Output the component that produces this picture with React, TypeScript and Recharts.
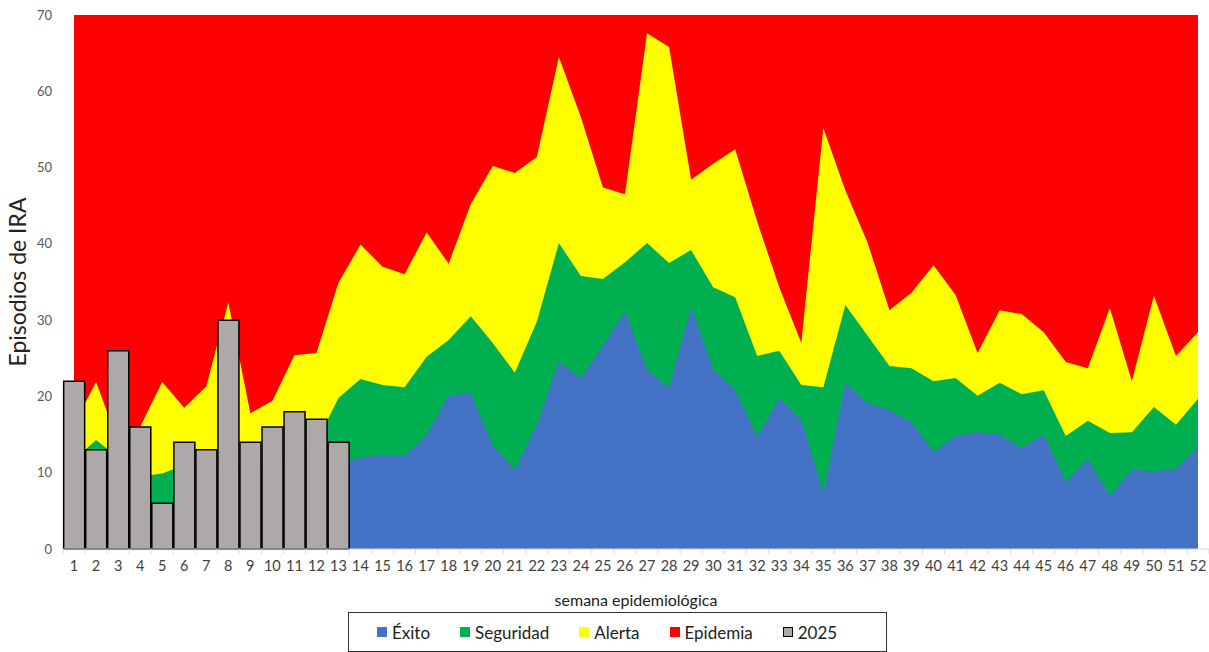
import React from "react";
import {
  ComposedChart,
  Area,
  Bar,
  XAxis,
  YAxis,
  Label,
} from "recharts";

// semanas epidemiológicas 1..52
const semanas = [
  1, 2, 3, 4, 5, 6, 7, 8, 9, 10, 11, 12, 13, 14, 15, 16, 17, 18, 19, 20, 21,
  22, 23, 24, 25, 26, 27, 28, 29, 30, 31, 32, 33, 34, 35, 36, 37, 38, 39, 40,
  41, 42, 43, 44, 45, 46, 47, 48, 49, 50, 51, 52,
];

// límite superior de cada zona del canal endémico
const exito = [
  8.5, 7.5, 7.0, 4.5, 5.5, 6.0, 5.5, 3.5, 5.0, 5.0, 8.0, 9.0, 11.0, 12.0, 12.3,
  12.2, 15.0, 20.2, 20.4, 13.6, 10.4, 16.3, 24.5, 22.4, 26.7, 31.1, 23.5, 21.1,
  31.7, 23.5, 20.8, 14.7, 19.8, 16.9, 7.3, 21.8, 19.1, 18.2, 16.6, 12.7, 14.8,
  15.3, 15.0, 13.2, 15.0, 8.8, 11.8, 6.9, 10.4, 10.2, 10.5, 13.4,
];

const seguridad = [
  11.7, 14.3, 12.0, 9.5, 9.9, 11.0, 11.0, 11.0, 10.5, 10.5, 12.5, 14.0, 19.8,
  22.3, 21.5, 21.2, 25.2, 27.4, 30.5, 27.0, 23.1, 29.8, 40.1, 35.8, 35.4, 37.6,
  40.1, 37.5, 39.2, 34.3, 33.0, 25.3, 26.0, 21.5, 21.2, 32.0, 28.0, 24.0, 23.7,
  22.0, 22.4, 20.1, 21.8, 20.3, 20.8, 14.8, 16.8, 15.2, 15.3, 18.6, 16.3, 19.7,
];

const alerta = [
  16.3, 21.9, 14.1, 16.0, 21.9, 18.5, 21.3, 32.3, 17.8, 19.4, 25.4, 25.7, 34.9,
  39.9, 37.0, 36.0, 41.5, 37.4, 45.2, 50.2, 49.3, 51.4, 64.5, 56.6, 47.4, 46.5,
  67.6, 65.8, 48.4, 50.5, 52.4, 42.9, 34.3, 27.0, 55.2, 47.0, 40.2, 31.3, 33.6,
  37.2, 33.3, 25.7, 31.3, 30.8, 28.4, 24.5, 23.7, 31.6, 22.0, 33.2, 25.3, 28.4,
];

// la zona de epidemia llega hasta el techo del eje
const techo = 70;

const casos2025 = [22, 13, 26, 16, 6, 14, 13, 30, 14, 16, 18, 17, 14];

const yTicks = [0, 10, 20, 30, 40, 50, 60, 70];

const COLORS = {
  exito: "#4472C4",
  seguridad: "#00B050",
  alerta: "#FFFF00",
  epidemia: "#FF0000",
  barra: "#ADA9A8",
};

const FONT = "Lato, 'Open Sans', sans-serif";

const data = semanas.map((s, i) => ({
  semana: s,
  exito: exito[i],
  seguridad: seguridad[i],
  alerta: alerta[i],
  epidemia: techo,
  casos: i < casos2025.length ? casos2025[i] : null,
}));

const XTick = (props: any) => {
  const { x, y, payload, index } = props;
  const half = payload && payload.offset ? payload.offset : 11;
  return (
    <g>
      <line x1={x - half} y1={y - 8} x2={x - half} y2={y - 3} stroke="#D9D9D9" />
      {index === semanas.length - 1 && (
        <line x1={x + half} y1={y - 8} x2={x + half} y2={y - 3} stroke="#D9D9D9" />
      )}
      <text
        x={x}
        y={y + 14}
        textAnchor="middle"
        fill="#404040"
        fontSize={14.5}
        fontFamily={FONT}
      >
        {payload.value}
      </text>
    </g>
  );
};

const legendItems = [
  { name: "Éxito", color: COLORS.exito },
  { name: "Seguridad", color: COLORS.seguridad },
  { name: "Alerta", color: COLORS.alerta },
  { name: "Epidemia", color: COLORS.epidemia },
  { name: "2025", color: COLORS.barra, border: true },
];

export default function App() {
  return (
    <div
      style={{
        position: "absolute",
        left: 0,
        top: 0,
        width: 1209,
        height: 652,
        background: "#fff",
        fontFamily: FONT,
      }}
    >
      <ComposedChart
        width={1209}
        height={652}
        data={data}
        margin={{ top: 15, right: 0, left: 0, bottom: 43 }}
        barCategoryGap="3%"
      >
        <XAxis
          dataKey="semana"
          height={60}
          axisLine={{ stroke: "#D9D9D9" }}
          tickLine={false}
          tick={<XTick />}
          interval={0}
        >
          <Label
            value="semana epidemiológica"
            position="insideBottom"
            offset={3}
            style={{ fill: "#222", fontSize: 16, fontFamily: FONT }}
          />
        </XAxis>
        <YAxis
          width={63}
          domain={[0, 70]}
          ticks={yTicks}
          axisLine={false}
          tickLine={false}
          tickMargin={5}
          tick={{ fill: "#595959", fontSize: 13, fontFamily: FONT }}
        >
          <Label
            value="Episodios de IRA"
            angle={-90}
            position="insideLeft"
            offset={18}
            style={{
              textAnchor: "middle",
              fill: "#222",
              fontSize: 23,
              fontFamily: FONT,
            }}
          />
        </YAxis>
        <Area
          type="linear"
          dataKey="epidemia"
          stroke="none"
          fill={COLORS.epidemia}
          fillOpacity={1}
          isAnimationActive={false}
        />
        <Area
          type="linear"
          dataKey="alerta"
          stroke="none"
          fill={COLORS.alerta}
          fillOpacity={1}
          isAnimationActive={false}
        />
        <Area
          type="linear"
          dataKey="seguridad"
          stroke="none"
          fill={COLORS.seguridad}
          fillOpacity={1}
          isAnimationActive={false}
        />
        <Area
          type="linear"
          dataKey="exito"
          stroke="none"
          fill={COLORS.exito}
          fillOpacity={1}
          isAnimationActive={false}
        />
        <Bar
          dataKey="casos"
          fill={COLORS.barra}
          stroke="#000"
          strokeWidth={1.5}
          isAnimationActive={false}
        />
      </ComposedChart>
      <div
        style={{
          position: "absolute",
          left: 348,
          top: 612,
          width: 539,
          height: 40,
          boxSizing: "border-box",
          border: "1px solid #333",
          display: "flex",
          alignItems: "center",
          justifyContent: "flex-start",
          paddingLeft: 28,
          gap: 30,
          fontSize: 17,
          color: "#222",
        }}
      >
        {legendItems.map((it) => (
          <div key={it.name} style={{ display: "flex", alignItems: "center" }}>
            <span
              style={{
                display: "inline-block",
                width: 10,
                height: 10,
                marginRight: 5,
                background: it.color,
                boxSizing: "border-box",
                border: it.border ? "1px solid #000" : "none",
              }}
            />
            {it.name}
          </div>
        ))}
      </div>
    </div>
  );
}
